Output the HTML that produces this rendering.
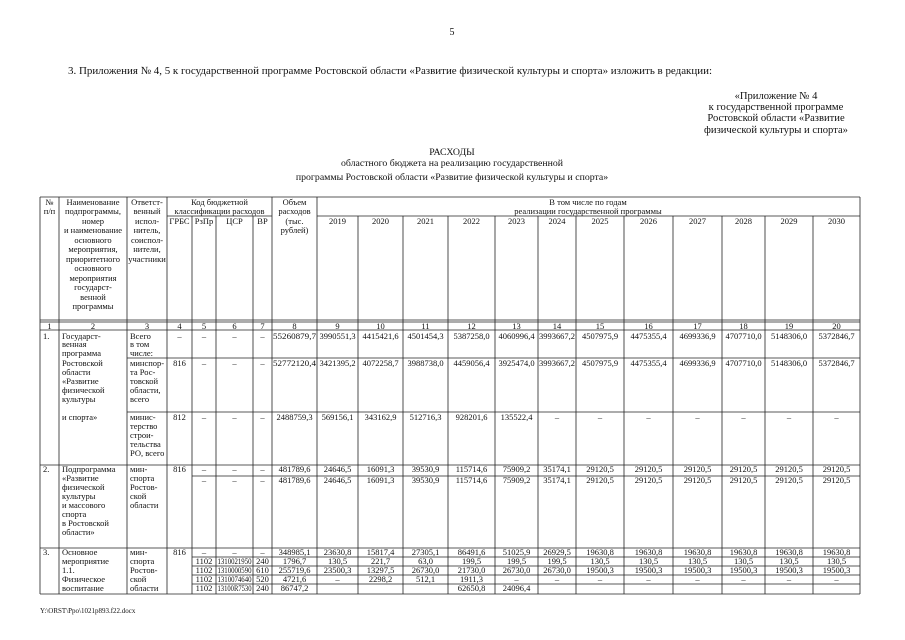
<!DOCTYPE html>
<html><head><meta charset="utf-8"><style>
html,body{margin:0;padding:0;background:#fff}
svg{display:block}
text{font-family:"Liberation Serif",serif;fill:#111}
.t{font-size:8.5px}
.c{text-anchor:middle}
.h{font-size:10px}
</style></head><body>
<svg width="905" height="640" viewBox="0 0 905 640" xmlns="http://www.w3.org/2000/svg">
<text class="h c" x="452" y="35" font-size="8">5</text>
<text x="68" y="74" font-size="10.9" textLength="644" lengthAdjust="spacingAndGlyphs">3. Приложения № 4, 5 к государственной программе Ростовской области «Развитие физической культуры и спорта» изложить в редакции:</text>
<g class="c" font-size="10.6">
<text x="776" y="99">«Приложение № 4</text>
<text x="776" y="110">к государственной программе</text>
<text x="776" y="121">Ростовской области «Развитие</text>
<text x="776" y="133">физической культуры и спорта»</text>
</g>
<g class="c" font-size="9.8">
<text x="452" y="155">РАСХОДЫ</text>
<text x="452" y="166">областного бюджета на реализацию государственной</text>
<text x="452" y="180">программы Ростовской области «Развитие физической культуры и спорта»</text>
</g>
<g stroke="#222" stroke-width="0.8" fill="none">
<line x1="40" y1="197" x2="860" y2="197"/>
<line x1="167" y1="216" x2="272" y2="216"/>
<line x1="317" y1="216" x2="860" y2="216"/>
<line x1="40" y1="320" x2="860" y2="320"/>
<line x1="40" y1="322" x2="860" y2="322"/>
<line x1="40" y1="330" x2="860" y2="330"/>
<line x1="127" y1="358" x2="860" y2="358"/>
<line x1="127" y1="412" x2="860" y2="412"/>
<line x1="40" y1="465" x2="860" y2="465"/>
<line x1="192" y1="476" x2="860" y2="476"/>
<line x1="40" y1="548" x2="860" y2="548"/>
<line x1="192" y1="557" x2="860" y2="557"/>
<line x1="192" y1="566" x2="860" y2="566"/>
<line x1="192" y1="575" x2="860" y2="575"/>
<line x1="192" y1="584" x2="860" y2="584"/>
<line x1="40" y1="594" x2="860" y2="594"/>
<line x1="40" y1="197" x2="40" y2="594"/>
<line x1="59" y1="197" x2="59" y2="594"/>
<line x1="127" y1="197" x2="127" y2="594"/>
<line x1="167" y1="197" x2="167" y2="594"/>
<line x1="192" y1="216" x2="192" y2="594"/>
<line x1="216" y1="216" x2="216" y2="594"/>
<line x1="253" y1="216" x2="253" y2="594"/>
<line x1="272" y1="197" x2="272" y2="594"/>
<line x1="317" y1="197" x2="317" y2="594"/>
<line x1="358" y1="216" x2="358" y2="594"/>
<line x1="403" y1="216" x2="403" y2="594"/>
<line x1="448" y1="216" x2="448" y2="594"/>
<line x1="495" y1="216" x2="495" y2="594"/>
<line x1="538" y1="216" x2="538" y2="594"/>
<line x1="576" y1="216" x2="576" y2="594"/>
<line x1="624" y1="216" x2="624" y2="594"/>
<line x1="673" y1="216" x2="673" y2="594"/>
<line x1="722" y1="216" x2="722" y2="594"/>
<line x1="765" y1="216" x2="765" y2="594"/>
<line x1="813" y1="216" x2="813" y2="594"/>
<line x1="860" y1="197" x2="860" y2="594"/>
</g>
<g class="t c">
<text x="49.5" y="205">№</text><text x="49.5" y="214">п/п</text>
<text x="93" y="205">Наименование</text><text x="93" y="214">подпрограммы,</text>
<text x="93" y="224">номер</text><text x="93" y="233">и наименование</text><text x="93" y="243">основного</text>
<text x="93" y="252">мероприятия,</text><text x="93" y="262">приоритетного</text><text x="93" y="271">основного</text>
<text x="93" y="281">мероприятия</text><text x="93" y="290">государст-</text><text x="93" y="300">венной</text><text x="93" y="309">программы</text>
<text x="147" y="205">Ответст-</text><text x="147" y="214">венный</text><text x="147" y="224">испол-</text>
<text x="147" y="233">нитель,</text><text x="147" y="243">соиспол-</text><text x="147" y="252">нители,</text><text x="147" y="262">участники</text>
<text x="219.5" y="205">Код бюджетной</text><text x="219.5" y="214">классификации расходов</text>
<text x="179.5" y="224">ГРБС</text><text x="204" y="224">РзПр</text><text x="234.5" y="224">ЦСР</text><text x="262.5" y="224">ВР</text>
<text x="294.5" y="205">Объем</text><text x="294.5" y="214">расходов</text><text x="294.5" y="224">(тыс.</text><text x="294.5" y="233">рублей)</text>
<text x="588" y="205">В том числе по годам</text><text x="588" y="214">реализации государственной программы</text>
<text x="337.5" y="224">2019</text><text x="380.5" y="224">2020</text><text x="425.5" y="224">2021</text><text x="471.5" y="224">2022</text>
<text x="516.5" y="224">2023</text><text x="557" y="224">2024</text><text x="600" y="224">2025</text><text x="648.5" y="224">2026</text>
<text x="697.5" y="224">2027</text><text x="743.5" y="224">2028</text><text x="789" y="224">2029</text><text x="836.5" y="224">2030</text>
<text x="49.5" y="329">1</text><text x="93" y="329">2</text><text x="147" y="329">3</text><text x="179.5" y="329">4</text>
<text x="204" y="329">5</text><text x="234.5" y="329">6</text><text x="262.5" y="329">7</text><text x="294.5" y="329">8</text>
<text x="337.5" y="329">9</text><text x="380.5" y="329">10</text><text x="425.5" y="329">11</text><text x="471.5" y="329">12</text>
<text x="516.5" y="329">13</text><text x="557" y="329">14</text><text x="600" y="329">15</text><text x="648.5" y="329">16</text>
<text x="697.5" y="329">17</text><text x="743.5" y="329">18</text><text x="789" y="329">19</text><text x="836.5" y="329">20</text>
</g>
<g class="t">
<text x="43" y="339">1.</text>
<text x="62" y="339">Государст-</text><text x="62" y="347">венная</text><text x="62" y="356">программа</text>
<text x="62" y="366">Ростовской</text><text x="62" y="375">области</text><text x="62" y="384">«Развитие</text>
<text x="62" y="393">физической</text><text x="62" y="402">культуры</text><text x="62" y="420">и спорта»</text>
<text x="130" y="339">Всего</text><text x="130" y="347">в том</text><text x="130" y="356">числе:</text>
<text x="130" y="366">минспор-</text><text x="130" y="375">та Рос-</text><text x="130" y="384">товской</text><text x="130" y="393">области,</text><text x="130" y="402">всего</text>
<text x="130" y="420">минис-</text><text x="130" y="429">терство</text><text x="130" y="438">строи-</text><text x="130" y="447">тельства</text><text x="130" y="456">РО, всего</text>
<text x="43" y="472">2.</text>
<text x="62" y="472">Подпрограмма</text><text x="62" y="481">«Развитие</text><text x="62" y="490">физической</text><text x="62" y="499">культуры</text>
<text x="62" y="508">и массового</text><text x="62" y="517">спорта</text><text x="62" y="526">в Ростовской</text><text x="62" y="535">области»</text>
<text x="130" y="472">мин-</text><text x="130" y="481">спорта</text><text x="130" y="490">Ростов-</text><text x="130" y="499">ской</text><text x="130" y="508">области</text>
<text x="43" y="555">3.</text>
<text x="62" y="555">Основное</text><text x="62" y="564">мероприятие</text><text x="62" y="573">1.1.</text><text x="62" y="582">Физическое</text><text x="62" y="591">воспитание</text>
<text x="130" y="555">мин-</text><text x="130" y="564">спорта</text><text x="130" y="573">Ростов-</text><text x="130" y="582">ской</text><text x="130" y="591">области</text>
</g>
<g class="t c">
<text x="179.5" y="339">–</text><text x="204" y="339">–</text><text x="234.5" y="339">–</text><text x="262.5" y="339">–</text>
<text x="294.5" y="339" textLength="43" lengthAdjust="spacingAndGlyphs">55260879,7</text><text x="337.5" y="339">3990551,3</text><text x="380.5" y="339">4415421,6</text><text x="425.5" y="339">4501454,3</text>
<text x="471.5" y="339">5387258,0</text><text x="516.5" y="339">4060996,4</text><text x="557" y="339" textLength="36" lengthAdjust="spacingAndGlyphs">3993667,2</text><text x="600" y="339">4507975,9</text>
<text x="648.5" y="339">4475355,4</text><text x="697.5" y="339">4699336,9</text><text x="743.5" y="339">4707710,0</text><text x="789" y="339">5148306,0</text><text x="836.5" y="339">5372846,7</text>
<text x="179.5" y="366">816</text><text x="204" y="366">–</text><text x="234.5" y="366">–</text><text x="262.5" y="366">–</text>
<text x="294.5" y="366" textLength="43" lengthAdjust="spacingAndGlyphs">52772120,4</text><text x="337.5" y="366">3421395,2</text><text x="380.5" y="366">4072258,7</text><text x="425.5" y="366">3988738,0</text>
<text x="471.5" y="366">4459056,4</text><text x="516.5" y="366">3925474,0</text><text x="557" y="366" textLength="36" lengthAdjust="spacingAndGlyphs">3993667,2</text><text x="600" y="366">4507975,9</text>
<text x="648.5" y="366">4475355,4</text><text x="697.5" y="366">4699336,9</text><text x="743.5" y="366">4707710,0</text><text x="789" y="366">5148306,0</text><text x="836.5" y="366">5372846,7</text>
<text x="179.5" y="420">812</text><text x="204" y="420">–</text><text x="234.5" y="420">–</text><text x="262.5" y="420">–</text>
<text x="294.5" y="420">2488759,3</text><text x="337.5" y="420">569156,1</text><text x="380.5" y="420">343162,9</text><text x="425.5" y="420">512716,3</text>
<text x="471.5" y="420">928201,6</text><text x="516.5" y="420">135522,4</text><text x="557" y="420">–</text><text x="600" y="420">–</text>
<text x="648.5" y="420">–</text><text x="697.5" y="420">–</text><text x="743.5" y="420">–</text><text x="789" y="420">–</text><text x="836.5" y="420">–</text>
<text x="179.5" y="472">816</text><text x="204" y="472">–</text><text x="234.5" y="472">–</text><text x="262.5" y="472">–</text>
<text x="294.5" y="472">481789,6</text><text x="337.5" y="472">24646,5</text><text x="380.5" y="472">16091,3</text><text x="425.5" y="472">39530,9</text>
<text x="471.5" y="472">115714,6</text><text x="516.5" y="472">75909,2</text><text x="557" y="472">35174,1</text><text x="600" y="472">29120,5</text>
<text x="648.5" y="472">29120,5</text><text x="697.5" y="472">29120,5</text><text x="743.5" y="472">29120,5</text><text x="789" y="472">29120,5</text><text x="836.5" y="472">29120,5</text>
<text x="204" y="483">–</text><text x="234.5" y="483">–</text><text x="262.5" y="483">–</text>
<text x="294.5" y="483">481789,6</text><text x="337.5" y="483">24646,5</text><text x="380.5" y="483">16091,3</text><text x="425.5" y="483">39530,9</text>
<text x="471.5" y="483">115714,6</text><text x="516.5" y="483">75909,2</text><text x="557" y="483">35174,1</text><text x="600" y="483">29120,5</text>
<text x="648.5" y="483">29120,5</text><text x="697.5" y="483">29120,5</text><text x="743.5" y="483">29120,5</text><text x="789" y="483">29120,5</text><text x="836.5" y="483">29120,5</text>
<text x="179.5" y="555">816</text><text x="204" y="555">–</text><text x="234.5" y="555">–</text><text x="262.5" y="555">–</text>
<text x="294.5" y="555">348985,1</text><text x="337.5" y="555">23630,8</text><text x="380.5" y="555">15817,4</text><text x="425.5" y="555">27305,1</text>
<text x="471.5" y="555">86491,6</text><text x="516.5" y="555">51025,9</text><text x="557" y="555">26929,5</text><text x="600" y="555">19630,8</text>
<text x="648.5" y="555">19630,8</text><text x="697.5" y="555">19630,8</text><text x="743.5" y="555">19630,8</text><text x="789" y="555">19630,8</text><text x="836.5" y="555">19630,8</text>
<text x="204" y="564">1102</text><text x="234.5" y="564" textLength="34" lengthAdjust="spacingAndGlyphs">1310021950</text><text x="262.5" y="564">240</text>
<text x="294.5" y="564">1796,7</text><text x="337.5" y="564">130,5</text><text x="380.5" y="564">221,7</text><text x="425.5" y="564">63,0</text>
<text x="471.5" y="564">199,5</text><text x="516.5" y="564">199,5</text><text x="557" y="564">199,5</text><text x="600" y="564">130,5</text>
<text x="648.5" y="564">130,5</text><text x="697.5" y="564">130,5</text><text x="743.5" y="564">130,5</text><text x="789" y="564">130,5</text><text x="836.5" y="564">130,5</text>
<text x="204" y="573">1102</text><text x="234.5" y="573" textLength="34" lengthAdjust="spacingAndGlyphs">1310000590</text><text x="262.5" y="573">610</text>
<text x="294.5" y="573">255719,6</text><text x="337.5" y="573">23500,3</text><text x="380.5" y="573">13297,5</text><text x="425.5" y="573">26730,0</text>
<text x="471.5" y="573">21730,0</text><text x="516.5" y="573">26730,0</text><text x="557" y="573">26730,0</text><text x="600" y="573">19500,3</text>
<text x="648.5" y="573">19500,3</text><text x="697.5" y="573">19500,3</text><text x="743.5" y="573">19500,3</text><text x="789" y="573">19500,3</text><text x="836.5" y="573">19500,3</text>
<text x="204" y="582">1102</text><text x="234.5" y="582" textLength="34" lengthAdjust="spacingAndGlyphs">1310074640</text><text x="262.5" y="582">520</text>
<text x="294.5" y="582">4721,6</text><text x="337.5" y="582">–</text><text x="380.5" y="582">2298,2</text><text x="425.5" y="582">512,1</text>
<text x="471.5" y="582">1911,3</text><text x="516.5" y="582">–</text><text x="557" y="582">–</text><text x="600" y="582">–</text>
<text x="648.5" y="582">–</text><text x="697.5" y="582">–</text><text x="743.5" y="582">–</text><text x="789" y="582">–</text><text x="836.5" y="582">–</text>
<text x="204" y="591">1102</text><text x="234.5" y="591" textLength="34" lengthAdjust="spacingAndGlyphs">13100R7530</text><text x="262.5" y="591">240</text>
<text x="294.5" y="591">86747,2</text><text x="471.5" y="591">62650,8</text><text x="516.5" y="591">24096,4</text>
</g>
<text x="40" y="613" font-size="7">Y:\ORST\Ppo\1021p893.f22.docx</text>
</svg>
</body></html>
